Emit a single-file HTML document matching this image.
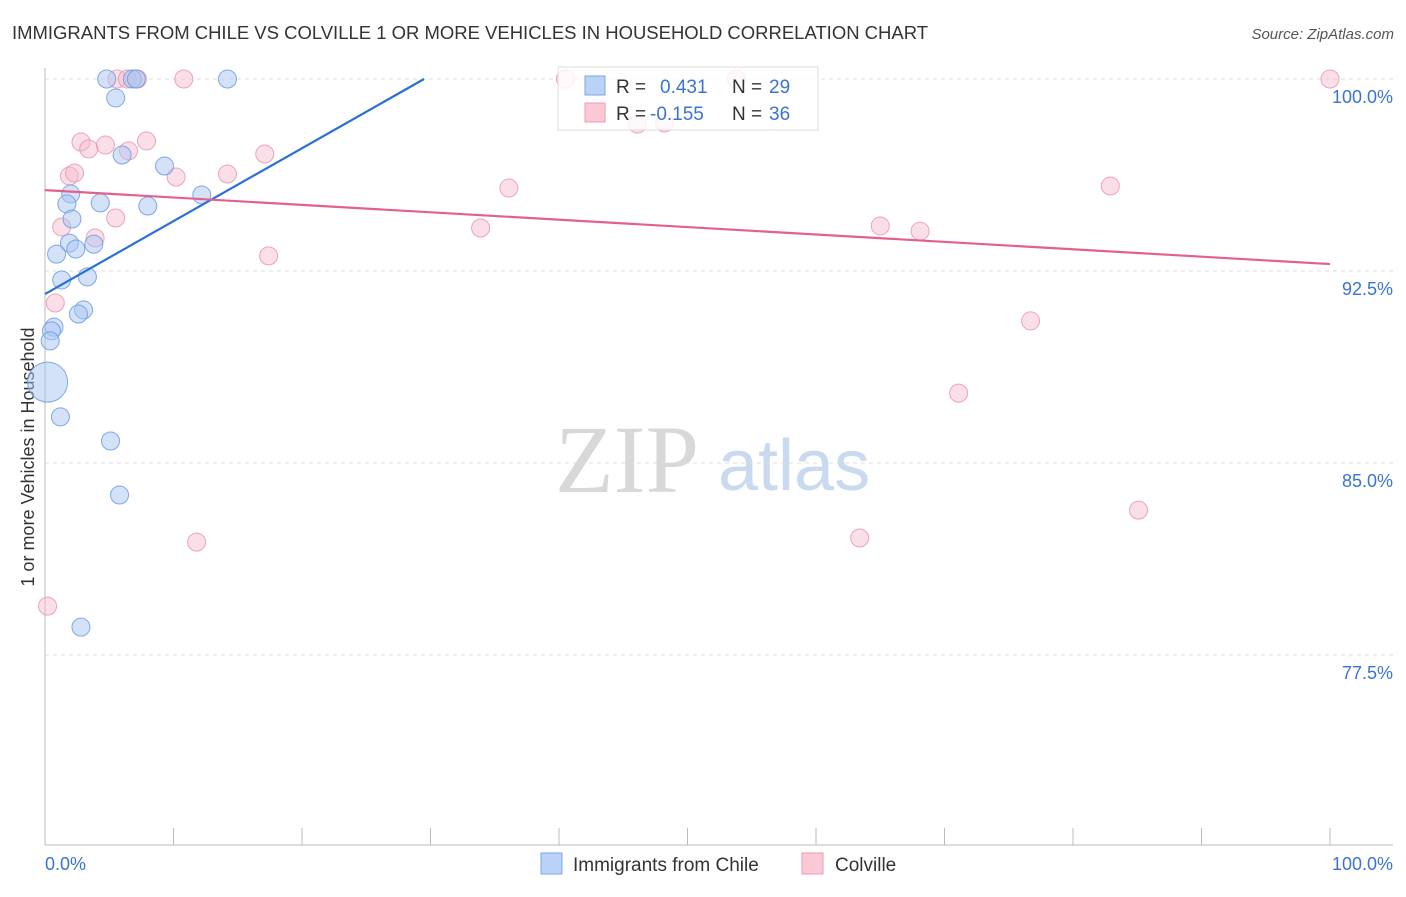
<!DOCTYPE html>
<html><head><meta charset="utf-8"><style>
body{margin:0;background:#fff;font-family:"Liberation Sans",sans-serif;}
svg text{font-family:"Liberation Sans",sans-serif;}
</style></head><body>
<svg id="c" width="1406" height="892" xmlns="http://www.w3.org/2000/svg">
<text x="12" y="39" font-size="18" fill="#333" textLength="916" lengthAdjust="spacingAndGlyphs">IMMIGRANTS FROM CHILE VS COLVILLE 1 OR MORE VEHICLES IN HOUSEHOLD CORRELATION CHART</text>
<text x="1394" y="39" font-size="15" fill="#555" text-anchor="end" font-style="italic">Source: ZipAtlas.com</text>
<text x="555" y="492" font-size="96" fill="#d8d8d8" style="font-family:'Liberation Serif',serif">ZIP</text>
<text x="718" y="490" font-size="72" fill="#c9daf0">atlas</text>
<g id="grid"></g>
<line x1="45" y1="68" x2="45" y2="845" stroke="#bbb"/>
<line x1="45" y1="845" x2="1393" y2="845" stroke="#bbb"/>
<g id="xt"></g>
<text transform="translate(34,457) rotate(-90)" font-size="18" fill="#333" text-anchor="middle">1 or more Vehicles in Household</text>
<text x="45" y="870" font-size="18" fill="#3b73d1">0.0%</text>
<text x="1393" y="870" font-size="18" fill="#3b73d1" text-anchor="end">100.0%</text>
<g id="pts"></g>
<g id="lines"></g>
<g>
<rect x="558" y="67" width="260" height="63" fill="#fff" fill-opacity="0.8" stroke="#ddd"/>
<rect x="585" y="76" width="20" height="19" fill="#b9d2f5" stroke="#7aa6e6"/>
<rect x="585" y="103" width="20" height="19" fill="#fbc9d6" stroke="#ee9ab2"/>
<text x="616" y="93" font-size="19" fill="#333">R =</text>
<text x="660" y="93" font-size="19" fill="#3b73d1">0.431</text>
<text x="732" y="93" font-size="19" fill="#333">N =</text>
<text x="769" y="93" font-size="19" fill="#3b73d1">29</text>
<text x="616" y="120" font-size="19" fill="#333">R =</text>
<text x="650" y="120" font-size="19" fill="#3b73d1">-0.155</text>
<text x="732" y="120" font-size="19" fill="#333">N =</text>
<text x="769" y="120" font-size="19" fill="#3b73d1">36</text>
</g>
<g>
<rect x="541" y="853" width="21" height="21" fill="#b9d2f5" stroke="#7aa6e6"/>
<text x="573" y="871" font-size="19" fill="#333">Immigrants from Chile</text>
</g>
<g>
<rect x="802" y="853" width="21" height="21" fill="#fbc9d6" stroke="#ee9ab2"/>
<text x="835" y="871" font-size="19" fill="#333">Colville</text>
</g>
</svg>
<script>
const yTicks=[100,92.5,85,77.5];
const yTickLabels=["100.0%","92.5%","85.0%","77.5%"];
const blueX=[4.8,6.8,7.1,14.2,5.5,9.3,6.0,12.2,8.0,2.0,1.7,4.3,2.1,1.9,2.4,3.8,0.9,1.3,3.3,3.0,2.6,0.7,0.5,0.4,0.2,1.2,5.1,5.8,2.8];
const blueY=[100,100,100,100,99.26,96.6,97.03,95.47,95.04,95.51,95.12,95.16,94.53,93.59,93.36,93.55,93.16,92.15,92.27,90.98,90.82,90.31,90.16,89.77,88.16,86.8,85.86,83.75,78.59];
const blueR=[9,9,9,9,9,9,9,9,9,9,9,9,9,9,9,9,9,9,9,9,9,9,9,9,20,9,9,9,9];
const pinkX=[5.6,6.4,7.2,10.8,40.5,53.8,100,2.8,3.4,4.7,7.9,6.5,17.1,1.9,2.3,10.2,14.2,36.1,82.9,5.5,1.3,3.9,33.9,65.0,68.1,17.4,0.8,46.1,48.2,76.7,71.1,85.1,63.4,11.8,0.2];
const pinkY=[100,100,100,100,100,100,100,97.54,97.27,97.42,97.58,97.19,97.07,96.21,96.33,96.17,96.29,95.74,95.82,94.57,94.22,93.79,94.18,94.26,94.06,93.09,91.25,98.24,98.28,90.55,87.73,83.16,82.07,81.91,79.41];
const blueTrend=[91.6,100.0];
const blueTrendX=[0,29.5];
const pinkTrend=[95.66,92.77];
const pinkTrendX=[0,100];
const NS="http://www.w3.org/2000/svg";
const sx=v=>45+v*12.85;
const sy=v=>79+(100-v)*25.6;
function mk(t,a,p){const e=document.createElementNS(NS,t);for(const k in a)e.setAttribute(k,a[k]);p.appendChild(e);return e;}
const grid=document.getElementById('grid');
yTicks.forEach((t,i)=>{
 const l=mk('line',{x1:45,x2:1393,y1:sy(t),y2:sy(t),stroke:'#ddd','stroke-dasharray':'4,4'},grid);
 
 
 const tx=mk('text',{x:1393,y:sy(t)+24,'font-size':18,fill:'#3b73d1','text-anchor':'end'},grid);
 tx.textContent=yTickLabels[i];
 
 
});
const xt=document.getElementById('xt');
for(let i=0;i<=10;i++){
 const l=mk('line',{x1:sx(i*10),x2:sx(i*10),y1:828,y2:845,stroke:'#bbb'},xt);
 
 
}
const pts=document.getElementById('pts');
pinkX.forEach((x,i)=>{
 const c=mk('circle',{cx:sx(x),cy:sy(pinkY[i]),r:9,fill:'#f7b8cb','fill-opacity':0.45,stroke:'#e890aa','stroke-opacity':0.8},pts);
 
 
});
blueX.forEach((x,i)=>{
 const c=mk('circle',{cx:sx(x),cy:sy(blueY[i]),r:blueR[i],fill:'#a9c6f2','fill-opacity':0.5,stroke:'#6a9be0','stroke-opacity':0.85},pts);
 
 
});
const lines=document.getElementById('lines');
const bl=mk('line',{x1:sx(blueTrendX[0]),y1:sy(blueTrend[0]),x2:sx(blueTrendX[1]),y2:sy(blueTrend[1]),stroke:'#2a6fd6','stroke-width':2.2},lines);


const pl=mk('line',{x1:sx(pinkTrendX[0]),y1:sy(pinkTrend[0]),x2:sx(pinkTrendX[1]),y2:sy(pinkTrend[1]),stroke:'#e4608c','stroke-width':2.2},lines);


</script>
</body></html>
